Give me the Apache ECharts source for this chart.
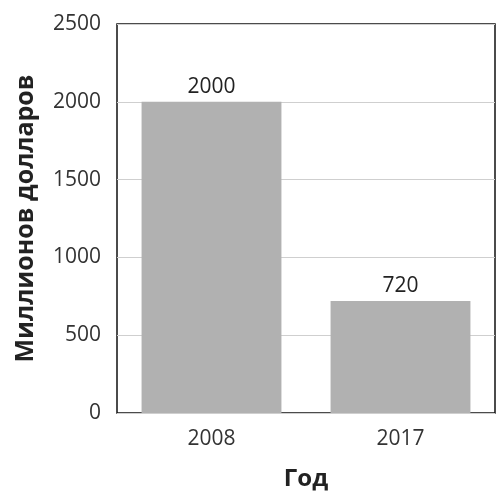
<!DOCTYPE html>
<html>
<head>
<meta charset="utf-8">
<script src="https://cdn.jsdelivr.net/npm/echarts@6/dist/echarts.min.js"></script>
<style>
  html, body { margin: 0; padding: 0; background: #fff; }
  #main { width: 497px; height: 496px; }
</style>
</head>
<body>
<div id="main"></div>
<script>
var years = ['2008', '2017'];
var values = [2000, 720];
var yTicks = [0, 500, 1000, 1500, 2000, 2500];

var myChart = echarts.init(document.getElementById('main'));

var option = {
    backgroundColor: '#fff',
    animation: false,
    textStyle: { fontFamily: 'Open Sans' },
    grid: {
        left: 117,
        right: 2,
        top: 24,
        bottom: 79,
        show: true,
        borderColor: '#111',
        borderWidth: 1.5
    },
    xAxis: {
        type: 'category',
        data: years,
        name: 'Год',
        nameLocation: 'middle',
        nameGap: 54,
        nameTextStyle: { fontSize: 24, fontWeight: 'bold', color: '#222' },
        axisLine: { show: false },
        axisTick: { show: false },
        axisLabel: { fontSize: 21, color: '#333', margin: 16 }
    },
    yAxis: {
        type: 'value',
        min: yTicks[0],
        max: yTicks[yTicks.length - 1],
        interval: 500,
        name: 'Миллионов долларов',
        nameLocation: 'middle',
        nameGap: 79,
        nameTextStyle: { fontSize: 25, fontWeight: 'bold', color: '#222' },
        axisLine: { show: false },
        axisTick: { show: false },
        axisLabel: {
            fontSize: 21,
            color: '#333',
            margin: 16,
            formatter: function (v) { return String(v); }
        },
        splitLine: { lineStyle: { color: '#cfcfcf', width: 1 } }
    },
    series: [{
        type: 'bar',
        data: values,
        barWidth: '74%',
        itemStyle: { color: '#b1b1b1' },
        label: {
            show: true,
            position: 'top',
            distance: 4,
            fontSize: 21,
            color: '#222'
        }
    }]
};

myChart.setOption(option);
</script>
</body>
</html>
